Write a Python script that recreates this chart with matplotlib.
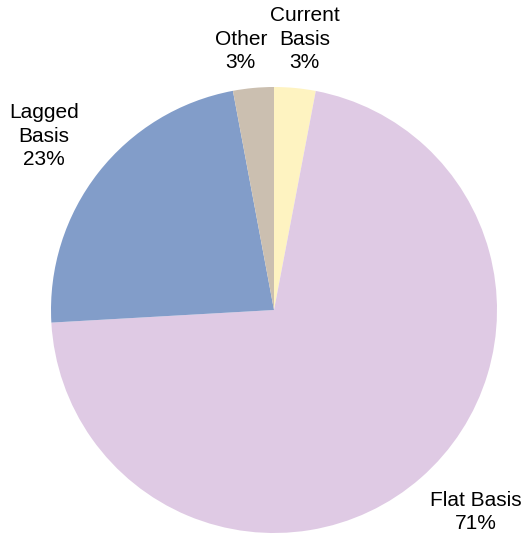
import numpy as np
import matplotlib.pyplot as plt

plt.rcParams['font.family'] = ['Liberation Sans', 'DejaVu Sans']

# slices, clockwise from the top
labels = ['Current\nBasis', 'Flat Basis', 'Lagged\nBasis', 'Other']
values = [3.0, 71.1, 22.95, 2.95]
pct_text = ['3%', '71%', '23%', '3%']
colors = ['#FEF3C1', '#DFCAE4', '#829DC9', '#CBBFB0']

fig = plt.figure(figsize=(5.32, 5.38), dpi=100)
ax = fig.add_axes([51 / 532, 5 / 538, 446 / 532, 446 / 538])

wedges, _ = ax.pie(values, colors=colors, startangle=90, counterclock=False,
                   radius=1.0, wedgeprops=dict(linewidth=0))
ax.set_xlim(-1, 1)
ax.set_ylim(-1, 1)
ax.set_aspect('equal')
ax.axis('off')

# label distance and angle nudge (degrees) per slice
dist = [1.223, 1.281, 1.293, 1.17]
nudge = [-1.1, 3.8, 1.0, 2.0]
for w, lab, pct, d, n in zip(wedges, labels, pct_text, dist, nudge):
    ang = np.deg2rad((w.theta1 + w.theta2) / 2 + n)
    x, y = d * np.cos(ang), d * np.sin(ang)
    ax.text(x, y, lab + '\n' + pct, ha='center', va='center',
            fontsize=15, color='black', clip_on=False, linespacing=1.3)

fig.savefig('out.png', dpi=100)
